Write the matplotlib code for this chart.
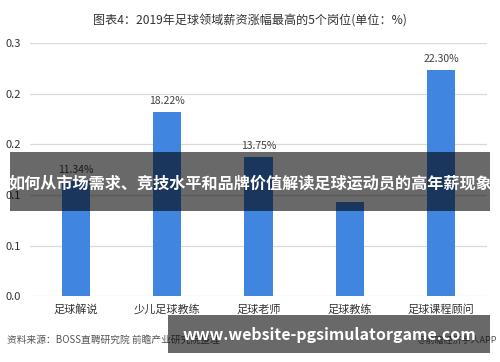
import matplotlib
matplotlib.use("Agg")
import matplotlib.pyplot as plt
from matplotlib.patches import Rectangle

plt.rcParams['font.family'] = ['Noto Sans CJK SC', 'DejaVu Sans']

categories = ["足球解说", "少儿足球教练", "足球老师", "足球教练", "足球课程顾问"]
values = [0.1134, 0.1822, 0.1375, 0.0930, 0.2230]
# the 4th bar's label is hidden behind the overlay banner in the reference
value_labels = ["11.34%", "18.22%", "13.75%", "", "22.30%"]
ytick_values = [0.0, 0.05, 0.10, 0.15, 0.20, 0.25]
ytick_labels = ["0.0", "0.1", "0.1", "0.2", "0.2", "0.3"]
title = "图表4：2019年足球领域薪资涨幅最高的5个岗位(单位：%)"
source = "资料来源：BOSS直聘研究院 前瞻产业研究院整理"
banner = "如何从市场需求、竞技水平和品牌价值解读足球运动员的高年薪现象"
site = "www.website-pgsimulatorgame.com"

fig = plt.figure(figsize=(5.0, 3.62), dpi=100)
ax = fig.add_axes([0.06, 0.182, 0.914, 0.699])

x = list(range(len(categories)))
bars = ax.bar(x, values, width=0.31, color="#4085E0", zorder=2)
for xi, v, lab in zip(x, values, value_labels):
    if lab:
        ax.text(xi, v + 0.006, lab, ha="center", va="bottom",
                fontsize=7.5, color="#404040")

ax.set_xlim(-0.5, len(categories) - 0.5)
ax.set_ylim(0, 0.25)
ax.set_yticks(ytick_values)
ax.set_yticklabels(ytick_labels)
ax.set_xticks(x)
ax.set_xticklabels(categories)
ax.tick_params(axis="both", length=0, labelsize=8, colors="#333333")
ax.tick_params(axis="x", pad=6)
ax.grid(axis="y", color="#d9d9d9", linewidth=0.9, zorder=0)
for s in ax.spines.values():
    s.set_visible(False)
for lbl in ax.get_yticklabels():
    lbl.set_horizontalalignment("left")
ax.yaxis.set_tick_params(pad=18)

fig.text(0.5, 0.943, title, ha="center", va="center", fontsize=8.7, color="#333333")
fig.text(0.014, 0.06, source, ha="left", va="center", fontsize=7,
         color="#555555", style="italic")
fig.text(0.995, 0.06, "@前瞻经济学人APP", ha="right", va="center", fontsize=6.5,
         color="#555555")

# overlay banners
fig.patches.append(Rectangle((10/500, 1-211/362), 480/500, 59/362,
                             transform=fig.transFigure, facecolor="black",
                             alpha=0.59, edgecolor="none", zorder=5))
fig.text(0.5, 1-183/362, banner, ha="center", va="center", fontsize=11.6,
         color="white", fontweight="bold", zorder=6)
fig.patches.append(Rectangle((168/500, 1-353/362), 322/500, 38/362,
                             transform=fig.transFigure, facecolor="black",
                             alpha=0.59, edgecolor="none", zorder=5))
fig.text(329/500, 1-335/362, site, ha="center", va="center", fontsize=11.5,
         color="white", fontweight="bold", zorder=6)

fig.savefig("out.png", dpi=100)
